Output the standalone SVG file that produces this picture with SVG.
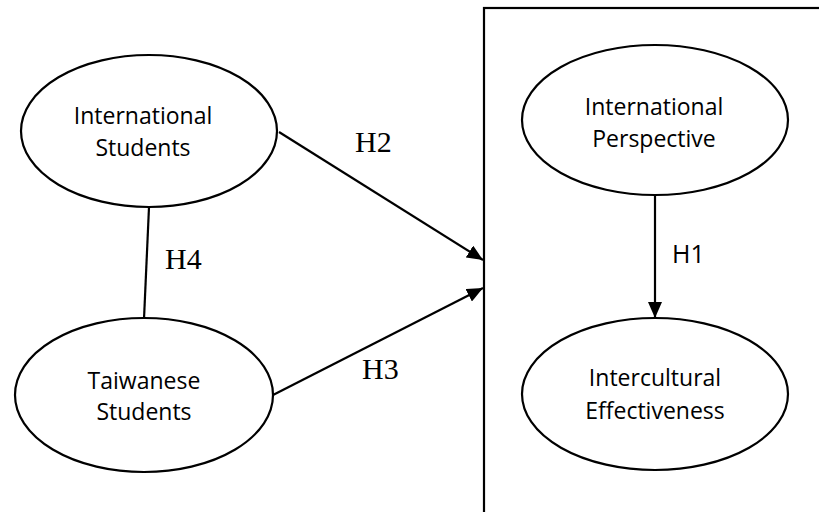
<svg xmlns="http://www.w3.org/2000/svg" width="819" height="512" viewBox="0 0 819 512">
<defs>
<style>
.node ellipse{fill:#fff;stroke:#000;stroke-width:2.2}
.lbl{font-family:"Open Sans","Liberation Sans",sans-serif;font-size:23px;fill:#000;text-anchor:middle}
.h{font-family:"Liberation Serif","Times New Roman",serif;font-size:30px;fill:#000}
.hs{font-family:"Open Sans","Liberation Sans",sans-serif;font-size:25px;fill:#000}
.conn line{stroke:#000;stroke-width:2.2}
</style>
<marker id="arr" markerUnits="userSpaceOnUse" markerWidth="16" markerHeight="14" viewBox="0 0 16 14" refX="16" refY="7" orient="auto">
<path d="M0,0 L16,7 L0,14 Z" fill="#000"/>
</marker>
</defs>
<rect width="819" height="512" fill="#fff"/>
<g id="boundary">
<rect x="484" y="8" width="400" height="600" fill="none" stroke="#000" stroke-width="2.2"/>
</g>
<g class="conn" id="connectors">
<line x1="279" y1="132" x2="483" y2="260" marker-end="url(#arr)"/>
<line x1="273" y1="395" x2="483" y2="288" marker-end="url(#arr)"/>
<line x1="655" y1="195" x2="655" y2="318" marker-end="url(#arr)"/>
<line x1="149" y1="207" x2="144" y2="319"/>
<text class="h" x="355" y="152">H2</text>
<text class="h" x="362" y="379">H3</text>
<text class="h" x="165" y="269">H4</text>
<text class="hs" x="672" y="263">H1</text>
</g>
<g class="node" id="international-students">
<ellipse cx="149" cy="131" rx="128" ry="76"/>
<text class="lbl" x="143" y="124">International</text>
<text class="lbl" x="143" y="156">Students</text>
</g>
<g class="node" id="taiwanese-students">
<ellipse cx="144" cy="395" rx="129" ry="77"/>
<text class="lbl" x="144" y="389">Taiwanese</text>
<text class="lbl" x="144" y="420">Students</text>
</g>
<g class="node" id="international-perspective">
<ellipse cx="655" cy="120" rx="133" ry="75"/>
<text class="lbl" x="654" y="115">International</text>
<text class="lbl" x="654" y="147">Perspective</text>
</g>
<g class="node" id="intercultural-effectiveness">
<ellipse cx="655" cy="394" rx="133" ry="76"/>
<text class="lbl" x="655" y="386">Intercultural</text>
<text class="lbl" x="655" y="419">Effectiveness</text>
</g>
</svg>
